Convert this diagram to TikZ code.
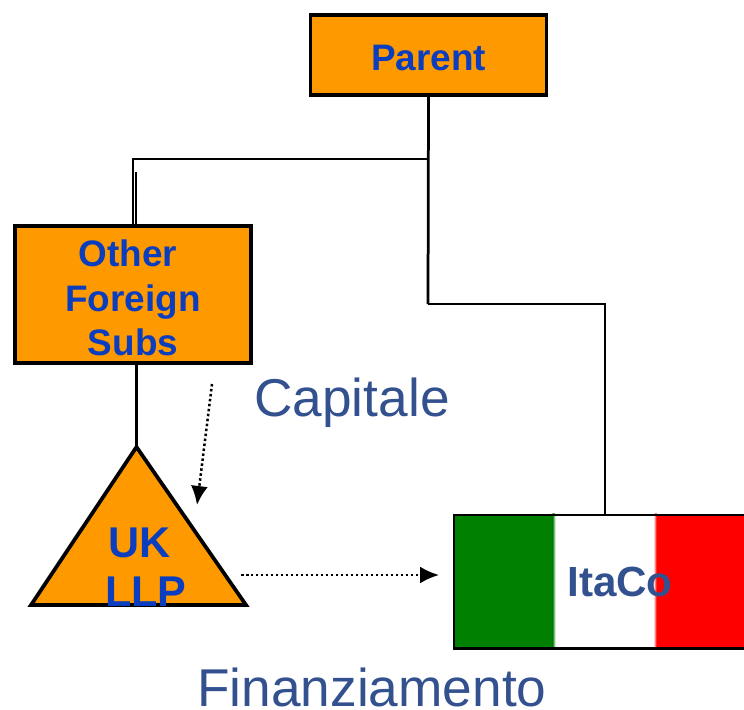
\documentclass[tikz,border=0pt]{standalone}
\usepackage{xcolor}
\usepackage{fontspec}
\setmainfont{Liberation Sans}
\usetikzlibrary{arrows.meta,backgrounds,calc,positioning,shapes.geometric}
\begin{document}
\begin{tikzpicture}[
    x=0.02cm,y=-0.02cm,
    line/.style={draw=black,line width=0.55mm},
    thin line/.style={draw=black,line width=0.42mm},
    flow/.style={draw=black,line width=0.5mm,dash pattern=on 0.5mm off 0.5mm,-{Latex[length=3.8mm,width=3.4mm]}},
    entity/.style={draw=black,line width=0.75mm,fill=holding,font=\bfseries\fontsize{21}{25.5}\selectfont,text=entitytext,align=center,inner sep=0pt},
    caption/.style={font=\fontsize{30.3}{36}\selectfont,text=captiontext,inner sep=0pt}
  ]
  \definecolor{holding}{HTML}{FF9900}
  \definecolor{entitytext}{HTML}{0B3EBE}
  \definecolor{captiontext}{HTML}{33508F}
  \definecolor{flaggreen}{HTML}{008000}
  \useasboundingbox (0,0) rectangle (744,710);
  \node [entity,minimum width=4.72cm,minimum height=1.6cm] (parent) at (428.5,55) {\rule{0pt}{18pt}Parent};
  \node [entity,minimum width=4.72cm,minimum height=2.74cm] (subs) at (133,294.5) {\rule{0pt}{19pt}Other\kern0.2cm\\Foreign\\Subs};
  \coordinate (apex) at (136.5,447);
  \coordinate (baseL) at (31,605);
  \coordinate (baseR) at (246,605);
  \draw [entity] (apex) -- (baseR) -- (baseL) -- cycle;
  \node [font=\bfseries\fontsize{24.5}{28}\selectfont,text=entitytext,align=center,inner sep=0pt] (llp) at (146,567) {UK\kern0.25cm\\LLP};
  \node [draw=black,line width=0.5mm,minimum width=5.97cm,minimum height=2.68cm,inner sep=0pt,anchor=north west] (itaco) at (452.5,513.5) {};
  \begin{pgfonlayer}{background}
    \fill [flaggreen] (itaco.north west) rectangle ($(itaco.south west)+(100,0)$);
    \shade [left color=flaggreen,right color=white] ($(itaco.north west)+(100,0)$) rectangle ($(itaco.south west)+(103,0)$);
    \shade [left color=white,right color=red] ($(itaco.north west)+(201,0)$) rectangle ($(itaco.south west)+(204,0)$);
    \fill [red] ($(itaco.north west)+(204,0)$) rectangle (itaco.south east);
  \end{pgfonlayer}
  \node [font=\bfseries\fontsize{24}{28}\selectfont,text=captiontext,inner sep=0pt] (itacotext) at (620,582) {ItaCo};
  \coordinate (split) at (428,159);
  \coordinate (splitL) at (133,159);
  \coordinate (elbow) at (428,304);
  \coordinate (elbowR) at (605,304);
  \coordinate (trunk) at (136,172);
  \draw [line] (parent.south) -- (elbow);
  \draw [thin line] (split) -- (splitL) -- (splitL |- subs.north);
  \draw [line] (trunk) -- (trunk |- subs.north);
  \draw [thin line] (elbow) -- (elbowR) -- (elbowR |- itaco.north);
  \draw [line] (apex |- subs.south) -- (apex);
  \coordinate (capStart) at (212,384);
  \coordinate (capEnd) at (197,505);
  \coordinate (finStart) at (241,575);
  \coordinate (finEnd) at (439,575);
  \draw [flow] (capStart) -- (capEnd);
  \draw [flow] (finStart) -- (finEnd);
  \node [caption] (capitale) at (352,403) {Capitale};
  \node [caption] (finanziamento) at (372,687) {Finanziamento};
\end{tikzpicture}
\end{document}
